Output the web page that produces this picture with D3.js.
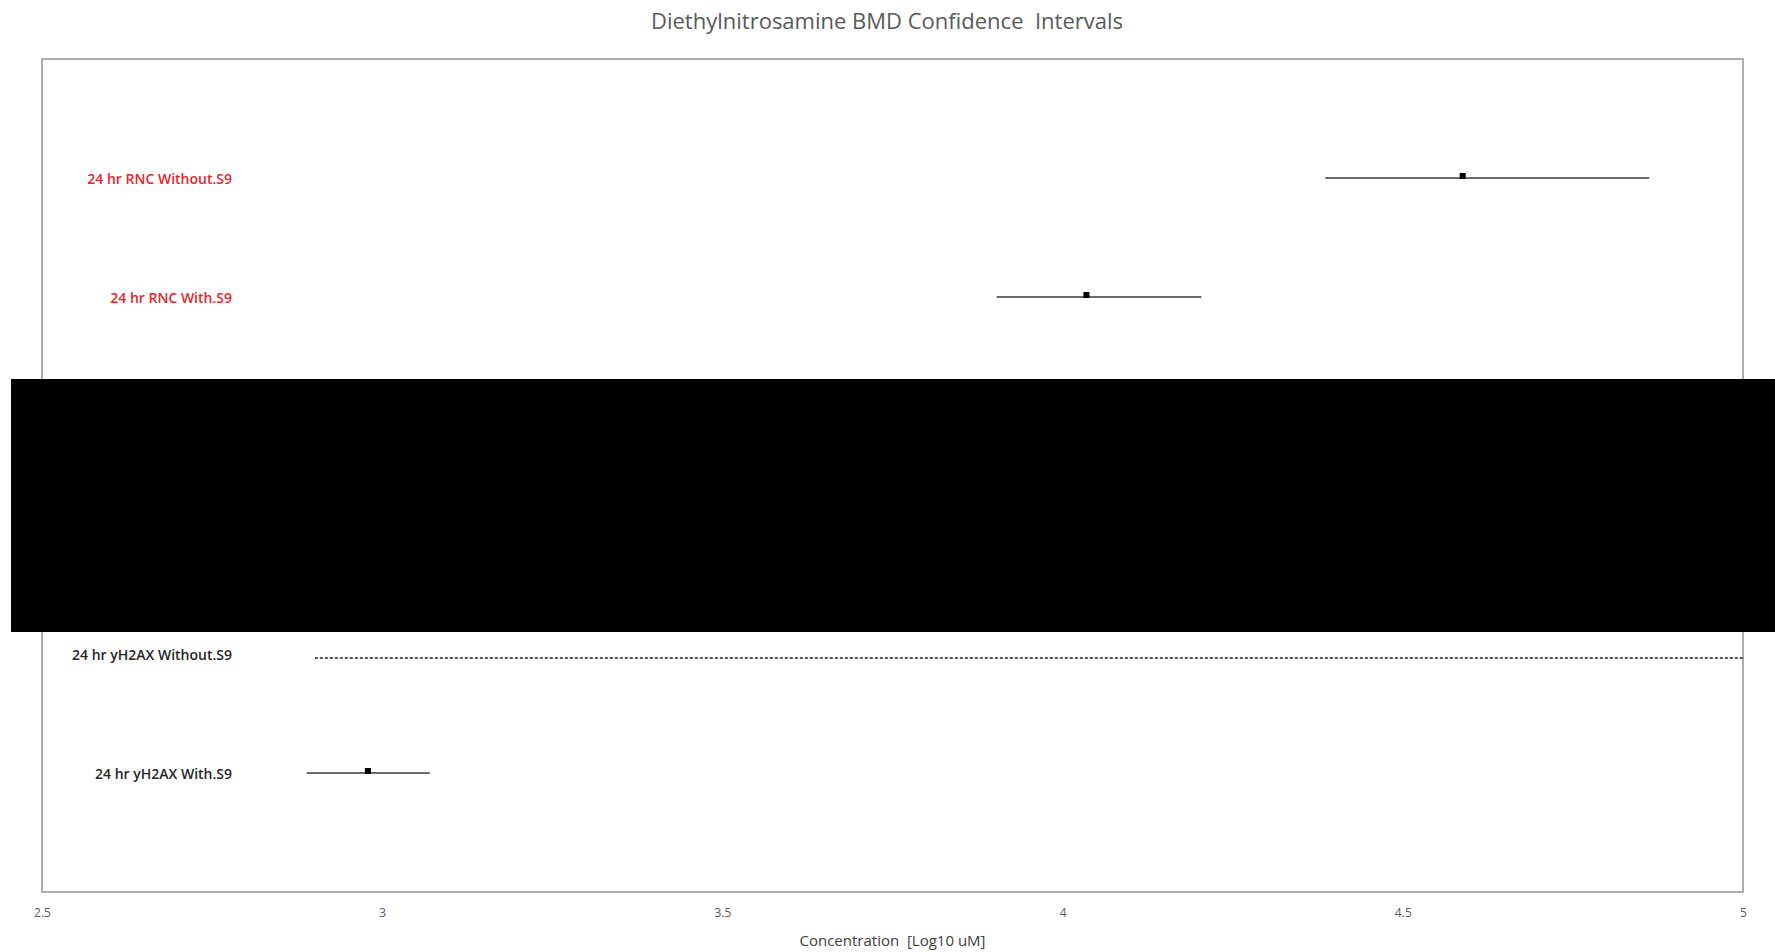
<!DOCTYPE html>
<html>
<head>
<meta charset="utf-8">
<script src="https://cdn.jsdelivr.net/npm/d3@7"></script>
<style>
  html, body { margin: 0; padding: 0; background: #fff; }
  svg { display: block; font-family: "Open Sans", "Liberation Sans", sans-serif; }
  svg text { white-space: pre; }
</style>
</head>
<body>
<svg id="chart" width="1775" height="952"></svg>
<script>
// Endpoint rows, top to bottom (two rows are masked in the figure)
const categories = [
  "24 hr RNC Without.S9",
  "24 hr RNC With.S9",
  "",
  "",
  "24 hr yH2AX Without.S9",
  "24 hr yH2AX With.S9"
];
const labelColors = ["#e8262b", "#e8262b", "#000", "#000", "#262626", "#262626"];
// BMD estimates and confidence limits, log10 uM (null = not estimated)
const bmd   = [4.588, 4.035, null, null, null,  2.979];
const bmdl  = [4.386, 3.903, null, null, 2.901, 2.889];
const bmdu  = [4.862, 4.204, null, null, 5.0,   3.070];
// Upper limit unbounded -> dashed interval
const openEnded = [false, false, false, false, true, false];
const xTicks = [2.5, 3, 3.5, 4, 4.5, 5];

const W = 1775, H = 952;
const plot = { left: 42, right: 1743, top: 59, bottom: 892 };

const svg = d3.select("#chart");

const x = d3.scaleLinear().domain([2.5, 5]).range([plot.left, plot.right]);
// Rows sit at integer positions 1..n inside a 0..n+1 frame
const y = d3.scaleLinear().domain([0, categories.length + 1]).range([plot.top, plot.bottom]);

// Title
svg.append("text")
  .attr("x", 887).attr("y", 20)
  .attr("text-anchor", "middle").attr("dominant-baseline", "central")
  .attr("font-size", 22).attr("fill", "#595959")
  .text("Diethylnitrosamine BMD Confidence  Intervals");

// Plot frame
svg.append("rect")
  .attr("x", plot.left).attr("y", plot.top)
  .attr("width", plot.right - plot.left).attr("height", plot.bottom - plot.top)
  .attr("fill", "none").attr("stroke", "#a6a6a6").attr("stroke-width", 1.8);

// X axis labels
const xAxis = d3.axisBottom(x).tickValues(xTicks).tickSize(0).tickPadding(0)
  .tickFormat(d3.format("~g"));
const gx = svg.append("g").attr("transform", `translate(0,${plot.bottom})`).call(xAxis);
gx.select(".domain").remove();
gx.selectAll("text")
  .attr("y", 21).attr("dy", "0.35em")
  .attr("font-family", "\"Open Sans\", sans-serif")
  .attr("font-size", 12).attr("fill", "#595959");

svg.append("text")
  .attr("x", (plot.left + plot.right) / 2).attr("y", 940)
  .attr("text-anchor", "middle").attr("dominant-baseline", "central")
  .attr("font-size", 15).attr("fill", "#404040")
  .text("Concentration  [Log10 uM]");

// Row labels
const rows = categories.map((name, i) => ({
  name, i, color: labelColors[i],
  bmd: bmd[i], lo: bmdl[i], hi: bmdu[i], open: openEnded[i]
}));

svg.append("g").selectAll("text")
  .data(rows.filter(r => r.name))
  .join("text")
  .attr("x", 232).attr("y", r => y(r.i + 1))
  .attr("text-anchor", "end").attr("dominant-baseline", "central")
  .attr("font-size", 14).attr("font-weight", 600)
  .attr("fill", r => r.color)
  .text(r => r.name);

// Confidence intervals
svg.append("g").selectAll("line")
  .data(rows.filter(r => r.lo != null))
  .join("line")
  .attr("x1", r => x(r.lo)).attr("x2", r => x(r.hi))
  .attr("y1", r => y(r.i + 1) + (r.open ? 4 : 0))
  .attr("y2", r => y(r.i + 1) + (r.open ? 4 : 0))
  .attr("stroke", r => r.open ? "#1a1a1a" : "#3a3a3a")
  .attr("stroke-width", r => r.open ? 1.5 : 1.7)
  .attr("stroke-dasharray", r => r.open ? "3,2" : null);

// BMD point estimates
svg.append("g").selectAll("rect")
  .data(rows.filter(r => r.bmd != null))
  .join("rect")
  .attr("x", r => x(r.bmd) - 3).attr("y", r => y(r.i + 1) - 5)
  .attr("width", 6).attr("height", 6)
  .attr("fill", "#000");

// Masked region over the middle rows
svg.append("rect")
  .attr("x", 11).attr("y", 379)
  .attr("width", W - 11).attr("height", 253)
  .attr("fill", "#000");
</script>
</body>
</html>
